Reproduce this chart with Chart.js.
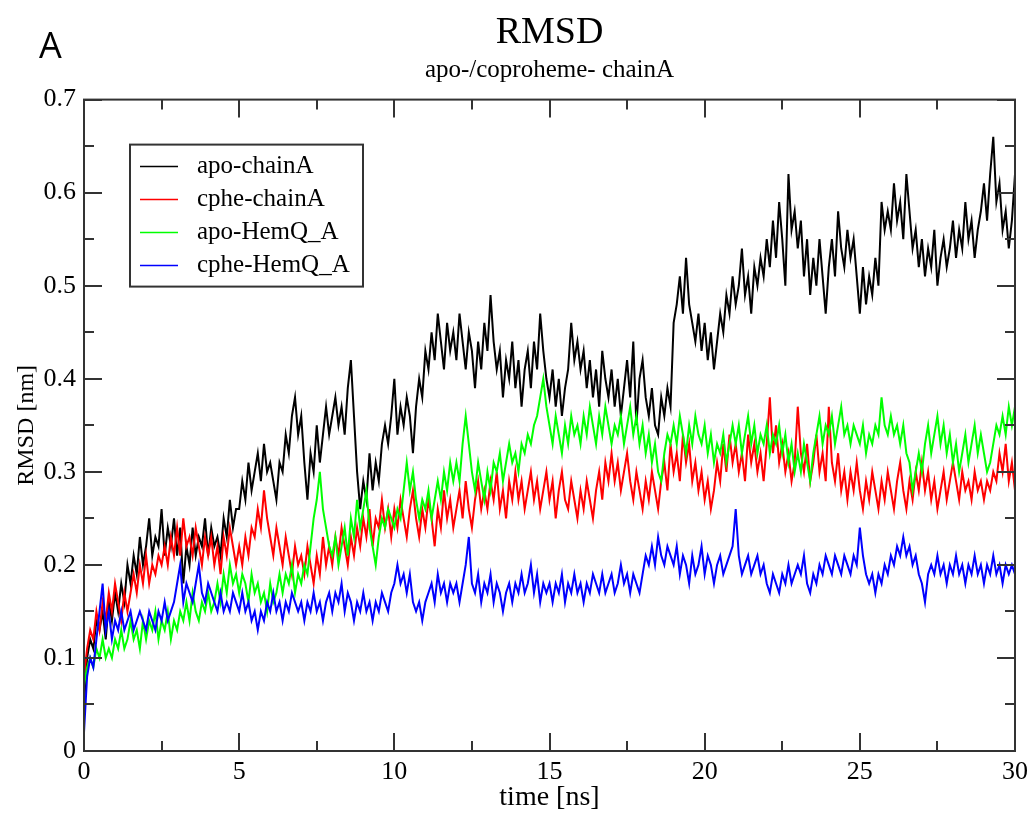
<!DOCTYPE html>
<html>
<head>
<meta charset="utf-8">
<script src="https://cdn.jsdelivr.net/npm/chart.js@4.4.1/dist/chart.umd.min.js"></script>
<style>
  html, body { margin: 0; padding: 0; background: #fff; }
  #wrap { position: relative; width: 1036px; height: 814px; }
</style>
</head>
<body>
<div id="wrap"><canvas id="rmsd" width="1036" height="814"></canvas></div>
<script>
// sampling of the trajectories (ns)
const dt = 0.1;
const seriesNames = ['apo-chainA', 'cphe-chainA', 'apo-HemQ_A', 'cphe-HemQ_A'];
const seriesColors = ['#000000', '#ff0000', '#00ff00', '#0000ff'];
const xTickLabels = ['0', '5', '10', '15', '20', '25', '30'];
const yTickLabels = ['0', '0.1', '0.2', '0.3', '0.4', '0.5', '0.6', '0.7'];

// RMSD [nm], one row = 1 ns
const apoChainA = [
  0.05,0.10,0.12,0.11,0.14,0.13,0.15,0.12,0.16,0.14,
  0.17,0.15,0.18,0.16,0.20,0.18,0.21,0.19,0.23,0.20,
  0.22,0.25,0.21,0.23,0.22,0.26,0.21,0.24,0.22,0.25,
  0.21,0.24,0.18,0.22,0.20,0.24,0.21,0.23,0.22,0.25,
  0.21,0.24,0.22,0.23,0.21,0.25,0.23,0.27,0.24,0.26,
  0.26,0.29,0.27,0.31,0.28,0.30,0.32,0.29,0.33,0.30,
  0.31,0.29,0.27,0.31,0.30,0.34,0.32,0.36,0.38,0.34,
  0.36,0.31,0.27,0.32,0.30,0.35,0.31,0.34,0.37,0.34,
  0.36,0.38,0.35,0.37,0.34,0.39,0.42,0.36,0.30,0.26,
  0.29,0.27,0.32,0.28,0.31,0.29,0.33,0.35,0.33,0.36,
  0.40,0.34,0.37,0.35,0.38,0.36,0.32,0.37,0.40,0.38,
  0.43,0.41,0.45,0.42,0.47,0.44,0.41,0.46,0.43,0.45,
  0.42,0.47,0.44,0.41,0.45,0.43,0.39,0.44,0.41,0.46,
  0.43,0.49,0.44,0.41,0.43,0.38,0.42,0.40,0.44,0.39,
  0.42,0.37,0.41,0.43,0.39,0.44,0.41,0.47,0.43,0.40,
  0.38,0.41,0.37,0.40,0.36,0.39,0.41,0.46,0.42,0.44,
  0.41,0.43,0.39,0.42,0.38,0.41,0.37,0.43,0.40,0.38,
  0.41,0.37,0.40,0.36,0.39,0.42,0.38,0.44,0.35,0.40,
  0.42,0.38,0.36,0.39,0.35,0.34,0.38,0.36,0.39,0.37,
  0.46,0.48,0.51,0.47,0.53,0.48,0.46,0.44,0.47,0.43,
  0.46,0.42,0.45,0.41,0.44,0.47,0.45,0.49,0.47,0.51,
  0.48,0.50,0.54,0.49,0.51,0.47,0.52,0.50,0.53,0.51,
  0.55,0.52,0.57,0.53,0.59,0.55,0.50,0.62,0.56,0.58,
  0.54,0.57,0.51,0.55,0.49,0.53,0.50,0.55,0.51,0.47,
  0.52,0.55,0.51,0.58,0.54,0.52,0.56,0.53,0.55,0.51,
  0.47,0.52,0.48,0.51,0.49,0.53,0.50,0.59,0.56,0.58,
  0.56,0.61,0.57,0.59,0.55,0.62,0.58,0.54,0.56,0.52,
  0.55,0.51,0.54,0.52,0.56,0.50,0.53,0.55,0.52,0.54,
  0.57,0.53,0.56,0.54,0.59,0.55,0.57,0.53,0.56,0.58,
  0.61,0.57,0.62,0.66,0.59,0.61,0.56,0.58,0.54,0.57,
  0.62
];
const cpheChainA = [
  0.08,0.11,0.13,0.12,0.15,0.13,0.16,0.14,0.17,0.15,
  0.18,0.16,0.14,0.17,0.15,0.17,0.19,0.17,0.20,0.18,
  0.21,0.18,0.20,0.19,0.21,0.20,0.22,0.20,0.23,0.21,
  0.24,0.21,0.25,0.22,0.23,0.21,0.24,0.22,0.20,0.23,
  0.21,0.23,0.20,0.22,0.19,0.23,0.21,0.24,0.22,0.20,
  0.22,0.20,0.23,0.21,0.24,0.23,0.26,0.24,0.28,0.25,
  0.23,0.21,0.24,0.22,0.20,0.23,0.21,0.19,0.22,0.20,
  0.21,0.19,0.22,0.20,0.18,0.21,0.19,0.23,0.20,0.22,
  0.20,0.23,0.21,0.24,0.22,0.20,0.23,0.21,0.24,0.22,
  0.25,0.23,0.26,0.22,0.25,0.24,0.27,0.24,0.26,0.23,
  0.26,0.24,0.27,0.25,0.23,0.26,0.28,0.25,0.23,0.26,
  0.24,0.27,0.25,0.22,0.26,0.24,0.28,0.25,0.27,0.24,
  0.26,0.28,0.25,0.29,0.26,0.24,0.27,0.29,0.26,0.28,
  0.26,0.29,0.27,0.30,0.26,0.28,0.25,0.29,0.27,0.30,
  0.27,0.29,0.26,0.28,0.30,0.27,0.29,0.26,0.28,0.30,
  0.27,0.29,0.25,0.28,0.30,0.27,0.26,0.29,0.27,0.25,
  0.28,0.26,0.29,0.27,0.25,0.28,0.30,0.27,0.31,0.29,
  0.32,0.29,0.31,0.28,0.30,0.32,0.29,0.27,0.30,0.28,
  0.26,0.29,0.27,0.30,0.28,0.26,0.29,0.31,0.28,0.33,
  0.30,0.32,0.29,0.34,0.31,0.33,0.29,0.31,0.28,0.30,
  0.27,0.29,0.26,0.28,0.31,0.29,0.33,0.30,0.34,0.31,
  0.33,0.30,0.32,0.29,0.34,0.31,0.33,0.30,0.32,0.29,
  0.33,0.38,0.32,0.35,0.31,0.33,0.30,0.32,0.29,0.31,
  0.37,0.32,0.30,0.33,0.29,0.31,0.34,0.30,0.32,0.29,
  0.37,0.31,0.29,0.32,0.28,0.30,0.27,0.30,0.28,0.31,
  0.28,0.26,0.29,0.27,0.30,0.28,0.26,0.29,0.27,0.30,
  0.28,0.26,0.29,0.31,0.28,0.26,0.29,0.27,0.30,0.28,
  0.31,0.28,0.30,0.27,0.29,0.26,0.28,0.30,0.27,0.29,
  0.31,0.29,0.27,0.30,0.28,0.29,0.27,0.30,0.28,0.29,
  0.27,0.29,0.28,0.30,0.29,0.32,0.30,0.33,0.29,0.31,
  0.28
];
const apoHemQA = [
  0.07,0.09,0.10,0.09,0.11,0.10,0.12,0.10,0.11,0.10,
  0.12,0.11,0.13,0.11,0.12,0.14,0.12,0.13,0.11,0.14,
  0.12,0.14,0.13,0.15,0.12,0.14,0.13,0.15,0.12,0.14,
  0.13,0.15,0.14,0.16,0.14,0.17,0.15,0.14,0.16,0.15,
  0.17,0.15,0.16,0.18,0.16,0.19,0.17,0.20,0.18,0.19,
  0.17,0.19,0.18,0.16,0.19,0.17,0.18,0.16,0.17,0.15,
  0.18,0.16,0.17,0.19,0.17,0.19,0.18,0.20,0.17,0.19,
  0.18,0.20,0.19,0.22,0.25,0.27,0.30,0.26,0.24,0.22,
  0.21,0.23,0.20,0.22,0.24,0.21,0.25,0.23,0.27,0.24,
  0.26,0.28,0.24,0.22,0.20,0.23,0.25,0.24,0.26,0.25,
  0.24,0.26,0.25,0.28,0.31,0.28,0.30,0.27,0.25,0.27,
  0.26,0.28,0.25,0.27,0.29,0.27,0.30,0.28,0.31,0.29,
  0.31,0.29,0.33,0.36,0.33,0.30,0.28,0.31,0.29,0.27,
  0.30,0.28,0.31,0.30,0.32,0.29,0.31,0.33,0.31,0.32,
  0.30,0.33,0.32,0.34,0.33,0.35,0.36,0.38,0.40,0.37,
  0.35,0.33,0.36,0.34,0.32,0.35,0.33,0.36,0.34,0.35,
  0.33,0.36,0.34,0.37,0.35,0.33,0.36,0.34,0.37,0.35,
  0.33,0.35,0.34,0.36,0.33,0.35,0.37,0.34,0.36,0.33,
  0.35,0.32,0.34,0.31,0.33,0.30,0.29,0.32,0.34,0.33,
  0.35,0.33,0.36,0.34,0.32,0.35,0.33,0.36,0.34,0.33,
  0.35,0.32,0.34,0.31,0.33,0.32,0.34,0.31,0.33,0.35,
  0.33,0.35,0.32,0.34,0.36,0.33,0.35,0.32,0.34,0.33,
  0.35,0.32,0.34,0.33,0.35,0.32,0.34,0.31,0.33,0.30,
  0.32,0.30,0.33,0.31,0.29,0.32,0.34,0.36,0.33,0.35,
  0.34,0.36,0.33,0.35,0.37,0.34,0.35,0.33,0.35,0.34,
  0.33,0.35,0.32,0.34,0.33,0.35,0.34,0.38,0.35,0.34,
  0.36,0.34,0.35,0.33,0.35,0.32,0.31,0.28,0.30,0.32,
  0.30,0.33,0.35,0.32,0.34,0.36,0.33,0.35,0.32,0.34,
  0.31,0.33,0.30,0.32,0.34,0.31,0.33,0.35,0.32,0.34,
  0.32,0.30,0.31,0.33,0.35,0.34,0.36,0.34,0.37,0.35,
  0.37
];
const cpheHemQA = [
  0.02,0.08,0.10,0.09,0.12,0.15,0.18,0.13,0.15,0.12,
  0.14,0.13,0.15,0.13,0.14,0.15,0.13,0.14,0.15,0.14,
  0.13,0.15,0.14,0.13,0.15,0.14,0.16,0.14,0.15,0.16,
  0.18,0.20,0.16,0.18,0.17,0.16,0.18,0.20,0.17,0.16,
  0.18,0.17,0.16,0.15,0.17,0.15,0.16,0.15,0.17,0.16,
  0.15,0.17,0.15,0.16,0.14,0.15,0.13,0.15,0.14,0.16,
  0.15,0.17,0.15,0.16,0.14,0.16,0.15,0.17,0.16,0.15,
  0.16,0.14,0.16,0.15,0.17,0.15,0.16,0.14,0.16,0.17,
  0.15,0.17,0.16,0.18,0.15,0.17,0.16,0.14,0.16,0.15,
  0.17,0.15,0.16,0.14,0.16,0.15,0.17,0.16,0.15,0.17,
  0.18,0.20,0.18,0.19,0.17,0.19,0.16,0.15,0.16,0.14,
  0.16,0.17,0.18,0.16,0.19,0.17,0.18,0.16,0.18,0.17,
  0.18,0.16,0.18,0.20,0.23,0.18,0.17,0.19,0.16,0.18,
  0.17,0.19,0.16,0.18,0.17,0.15,0.17,0.18,0.16,0.18,
  0.17,0.19,0.17,0.18,0.20,0.17,0.19,0.16,0.18,0.17,
  0.18,0.16,0.18,0.17,0.19,0.16,0.18,0.17,0.19,0.17,
  0.18,0.16,0.18,0.17,0.19,0.18,0.17,0.19,0.17,0.18,
  0.19,0.17,0.18,0.20,0.18,0.19,0.17,0.19,0.18,0.17,
  0.19,0.21,0.20,0.22,0.20,0.23,0.21,0.20,0.22,0.21,
  0.20,0.22,0.19,0.21,0.20,0.18,0.21,0.19,0.20,0.22,
  0.19,0.21,0.20,0.18,0.20,0.21,0.19,0.20,0.21,0.22,
  0.26,0.21,0.19,0.20,0.21,0.19,0.20,0.21,0.19,0.20,
  0.18,0.17,0.19,0.18,0.17,0.19,0.18,0.20,0.18,0.19,
  0.20,0.19,0.21,0.18,0.17,0.19,0.18,0.20,0.19,0.21,
  0.20,0.19,0.21,0.20,0.19,0.21,0.20,0.19,0.21,0.20,
  0.24,0.21,0.19,0.18,0.19,0.17,0.19,0.18,0.20,0.19,
  0.21,0.20,0.22,0.21,0.23,0.21,0.22,0.20,0.21,0.19,
  0.18,0.16,0.19,0.20,0.19,0.21,0.19,0.20,0.18,0.20,
  0.19,0.21,0.19,0.20,0.18,0.20,0.19,0.21,0.19,0.20,
  0.18,0.20,0.19,0.21,0.19,0.20,0.18,0.20,0.19,0.20,
  0.19
];

const SERIF = '"Liberation Serif", "Times New Roman", serif';
const allSeries = [apoChainA, cpheChainA, apoHemQA, cpheHemQA];

function toPoints(vals) {
  return vals.map((v, i) => ({ x: Math.round(i * dt * 10) / 10, y: v }));
}

function isMajor(v, step) { return Math.abs(v / step - Math.round(v / step)) < 1e-6; }

// grace-like frame: box, inward ticks on all four sides, legend box, panel letter
const gracePlugin = {
  id: 'grace',
  afterDraw(chart) {
    const { ctx, chartArea: a, scales: { x, y } } = chart;
    ctx.save();
    ctx.strokeStyle = '#333';
    ctx.lineWidth = 2;
    ctx.strokeRect(a.left, a.top, a.right - a.left, a.bottom - a.top);
    ctx.beginPath();
    x.ticks.forEach(t => {
      const px = Math.round(x.getPixelForValue(t.value));
      const len = isMajor(t.value, 5) ? 18 : 10;
      ctx.moveTo(px, a.bottom); ctx.lineTo(px, a.bottom - len);
      ctx.moveTo(px, a.top); ctx.lineTo(px, a.top + len);
    });
    y.ticks.forEach(t => {
      const py = Math.round(y.getPixelForValue(t.value));
      const len = isMajor(t.value, 0.1) ? 18 : 10;
      ctx.moveTo(a.left, py); ctx.lineTo(a.left + len, py);
      ctx.moveTo(a.right, py); ctx.lineTo(a.right - len, py);
    });
    ctx.stroke();

    // legend
    const lx = a.left + 46, ly = a.top + 45, lw = 233, lh = 142;
    ctx.fillStyle = '#fff';
    ctx.fillRect(lx, ly, lw, lh);
    ctx.strokeStyle = '#333';
    ctx.lineWidth = 2;
    ctx.strokeRect(lx, ly, lw, lh);
    ctx.font = '25px ' + SERIF;
    ctx.textBaseline = 'middle';
    ctx.textAlign = 'left';
    chart.data.datasets.forEach((ds, i) => {
      const ry = ly + 22 + i * 33;
      ctx.strokeStyle = ds.borderColor;
      ctx.lineWidth = 1.5;
      ctx.beginPath(); ctx.moveTo(lx + 10, ry); ctx.lineTo(lx + 48, ry); ctx.stroke();
      ctx.fillStyle = '#000';
      ctx.fillText(ds.label, lx + 67, ry);
    });

    // panel letter
    ctx.font = '36px "Open Sans", "DejaVu Sans", sans-serif';
    ctx.textBaseline = 'alphabetic';
    ctx.fillStyle = '#000';
    ctx.fillText('A', 39, 58);
    ctx.restore();
  }
};

new Chart(document.getElementById('rmsd'), {
  type: 'line',
  data: {
    datasets: allSeries.map((vals, i) => ({
      label: seriesNames[i],
      data: toPoints(vals),
      borderColor: seriesColors[i],
      borderWidth: 2,
      pointRadius: 0,
      tension: 0,
      order: allSeries.length - i
    }))
  },
  options: {
    responsive: false,
    animation: false,
    devicePixelRatio: 1,
    layout: { padding: { left: 0, right: 21, top: 0, bottom: 0 } },
    plugins: {
      legend: { display: false },
      tooltip: { enabled: false },
      title: {
        display: true, text: 'RMSD', fullSize: false, color: '#000',
        font: { family: SERIF, size: 38, weight: 'normal', lineHeight: 1.2 },
        padding: { top: 10, bottom: 0 }
      },
      subtitle: {
        display: true, text: 'apo-/coproheme- chainA', fullSize: false, color: '#000',
        font: { family: SERIF, size: 25, weight: 'normal', lineHeight: 1.2 },
        padding: { top: 0, bottom: 14 }
      }
    },
    scales: {
      x: {
        type: 'linear', min: 0, max: 30,
        grid: { display: false, drawTicks: false },
        border: { display: false },
        ticks: {
          stepSize: 2.5, autoSkip: false, maxRotation: 0, padding: 6,
          color: '#000', font: { family: SERIF, size: 26 },
          callback: v => isMajor(v, 5) ? xTickLabels[Math.round(v / 5)] : ''
        },
        title: {
          display: true, text: 'time [ns]', color: '#000',
          font: { family: SERIF, size: 28 }, padding: { top: 0, bottom: 0 }
        },
        afterFit: s => { s.height = 63; }
      },
      y: {
        min: 0, max: 0.7,
        grid: { display: false, drawTicks: false },
        border: { display: false },
        ticks: {
          stepSize: 0.05, autoSkip: false, padding: 8,
          color: '#000', font: { family: SERIF, size: 26 },
          callback: v => isMajor(v, 0.1) ? yTickLabels[Math.round(v * 10)] : ''
        },
        title: {
          display: true, text: 'RMSD [nm]', color: '#000',
          font: { family: SERIF, size: 24 }, padding: { top: 12, bottom: 0 }
        },
        afterFit: s => { s.width = 84; }
      }
    }
  },
  plugins: [gracePlugin]
});
</script>
</body>
</html>
